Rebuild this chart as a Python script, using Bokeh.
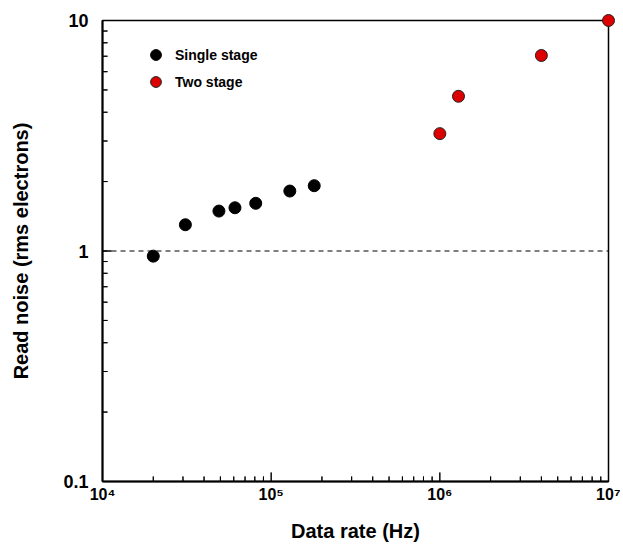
from bokeh.plotting import figure
from bokeh.models import Span, Legend, LegendItem, CustomJSTickFormatter, FixedTicker, Range1d, BoxAnnotation
from bokeh.embed import file_html
from bokeh.resources import INLINE
import math

# Data
single_rate = [2.0e4, 3.1e4, 4.9e4, 6.1e4, 8.1e4, 1.29e5, 1.8e5]
single_noise = [0.95, 1.30, 1.49, 1.54, 1.61, 1.82, 1.92]
two_rate = [1.0e6, 1.29e6, 4.0e6, 1.0e7]
two_noise = [3.23, 4.69, 7.05, 10.0]
reference_noise = 1.0
x_limits = (1e4, 1e7)
y_limits = (0.1, 10)
x_major = [1e4, 1e5, 1e6, 1e7]
y_major = [0.1, 1, 10]

FONT = "Liberation Sans"

def minor(majors):
    return [m * k for m in majors[:-1] for k in range(2, 10)]

x_minor = minor(x_major)
y_minor = minor(y_major)

W, H = 620, 545
BL, BR, BT, BB = 102, 12, 20, 64
frame_w, frame_h = W - BL - BR, H - BT - BB

p = figure(width=W, height=H, x_axis_type="log", y_axis_type="log",
           x_range=Range1d(*x_limits), y_range=Range1d(*y_limits),
           output_backend="svg", toolbar_location=None,
           min_border_left=BL, min_border_right=BR, min_border_top=BT, min_border_bottom=BB)

p.xgrid.visible = False
p.ygrid.visible = False
p.outline_line_color = "black"
p.outline_line_width = 1.5
p.background_fill_color = None
p.border_fill_color = None

span = Span(location=reference_noise, dimension="width", line_color="black",
            line_width=1, line_dash="5 4")
p.add_layout(span)

# inward tick marks
px_dec_x = frame_w / math.log10(x_limits[1] / x_limits[0])
px_dec_y = frame_h / math.log10(y_limits[1] / y_limits[0])

def up(px):
    return y_limits[0] * 10 ** (px / px_dec_y)

def right(px):
    return x_limits[0] * 10 ** (px / px_dec_x)

def xshift(v, px):
    return v * 10 ** (px / px_dec_x)

def yshift(v, px):
    return v * 10 ** (px / px_dec_y)

tick_style = dict(line_color="black", line_width=1, level="overlay")
p.segment(x0=x_major, y0=[y_limits[0]] * len(x_major), x1=x_major,
          y1=[up(9)] * len(x_major), **tick_style)
p.segment(x0=x_minor, y0=[y_limits[0]] * len(x_minor), x1=x_minor,
          y1=[up(5)] * len(x_minor), **tick_style)
p.segment(x0=[x_limits[0]] * len(y_major), y0=y_major,
          x1=[right(9)] * len(y_major), y1=y_major, **tick_style)
p.segment(x0=[x_limits[0]] * len(y_minor), y0=y_minor,
          x1=[right(5)] * len(y_minor), y1=y_minor, **tick_style)

box_style = dict(fill_color="black", fill_alpha=1.0, line_color=None)
for xv in x_major:
    p.add_layout(BoxAnnotation(left=xshift(xv, -0.5), right=xshift(xv, 0.5),
                               bottom=y_limits[0], top=up(9), **box_style))
for xv in x_minor:
    p.add_layout(BoxAnnotation(left=xshift(xv, -0.5), right=xshift(xv, 0.5),
                               bottom=y_limits[0], top=up(5), **box_style))
for yv in y_major:
    p.add_layout(BoxAnnotation(left=x_limits[0], right=right(9),
                               bottom=yshift(yv, -0.5), top=yshift(yv, 0.5), **box_style))
for yv in y_minor:
    p.add_layout(BoxAnnotation(left=x_limits[0], right=right(5),
                               bottom=yshift(yv, -0.5), top=yshift(yv, 0.5), **box_style))

r1 = p.scatter(single_rate, single_noise, size=12, fill_color="black", line_color="black")
r2 = p.scatter(two_rate, two_noise, size=12, fill_color="#DD0000", line_color="#222222", line_width=1)
r1.level = "overlay"
r2.level = "overlay"

for ax in (p.xaxis[0], p.yaxis[0]):
    ax.axis_line_width = 2
    ax.axis_line_color = "black"
    ax.major_tick_in = 0
    ax.major_tick_out = 0
    ax.minor_tick_in = 0
    ax.minor_tick_out = 0
    ax.major_tick_line_color = None
    ax.minor_tick_line_color = None
    ax.major_label_text_font = FONT
    ax.major_label_text_font_style = "bold"
    ax.major_label_text_color = "black"
    ax.axis_label_text_font = FONT
    ax.axis_label_text_font_style = "bold"
    ax.axis_label_text_font_size = "20px"
    ax.axis_label_text_color = "black"

p.xaxis[0].ticker = FixedTicker(ticks=x_major, minor_ticks=x_minor)
p.xaxis[0].formatter = CustomJSTickFormatter(code="""
const e = Math.round(Math.log10(tick));
const sup = '\u2070\u00b9\u00b2\u00b3\u2074\u2075\u2076\u2077\u2078\u2079';
return '10' + sup[e];
""")
p.xaxis[0].major_label_text_font_size = "16px"
p.xaxis[0].major_label_standoff = 4
p.xaxis[0].axis_label = "Data rate (Hz)"
p.xaxis[0].axis_label_standoff = 14

p.yaxis[0].ticker = FixedTicker(ticks=y_major, minor_ticks=y_minor)
p.yaxis[0].formatter = CustomJSTickFormatter(code="""
return tick >= 1 ? tick.toFixed(0) : tick.toFixed(1);
""")
p.yaxis[0].major_label_text_font_size = "18px"
p.yaxis[0].major_label_standoff = 14
p.yaxis[0].axis_label = "Read noise (rms electrons)"
p.yaxis[0].axis_label_standoff = 28

legend = Legend(items=[LegendItem(label="Single stage", renderers=[r1]),
                       LegendItem(label="Two stage", renderers=[r2])],
                location=(40, 386), padding=0, margin=0, spacing=0,
                glyph_width=27, glyph_height=27, label_standoff=6,
                label_text_font=FONT, label_text_font_style="bold",
                label_text_font_size="14px", label_text_color="black",
                border_line_color=None, background_fill_alpha=0)
p.add_layout(legend)

open("out.html", "w").write(file_html(p, INLINE))
